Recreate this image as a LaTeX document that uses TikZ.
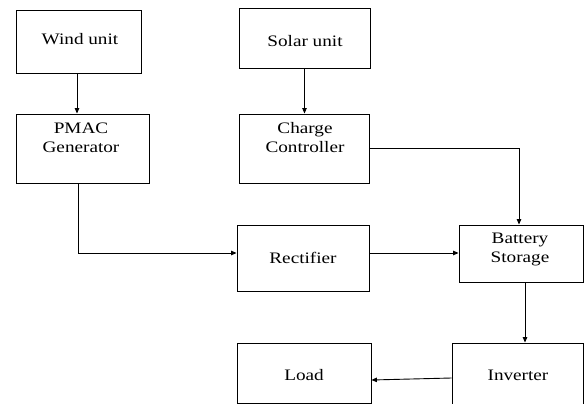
\documentclass[tikz,border=0pt]{standalone}
\usepackage{fontspec}
\setmainfont{Liberation Serif}[FakeStretch=1.2]
\usetikzlibrary{arrows.meta,calc}
\begin{document}
\begin{tikzpicture}[x=1pt,y=-1pt,
  blk/.style={draw=black,line width=0.9pt,rectangle,inner sep=0pt},
  lbl/.style={font=\fontsize{16}{19}\selectfont,align=center,inner sep=0pt,anchor=base},
  conn/.style={draw=black,line width=0.9pt,-{Triangle[length=5.5pt,width=4.5pt]}}]
\useasboundingbox (0,0) rectangle (584,404);
% boxes
\node[blk,minimum width=125pt,minimum height=63pt] (wind) at (78.5,41.5) {};
\node[blk,minimum width=133pt,minimum height=69pt] (pmac) at (82.5,148.5) {};
\node[blk,minimum width=131pt,minimum height=60pt] (solar) at (304.5,38) {};
\node[blk,minimum width=130pt,minimum height=69pt] (charge) at (304,148.5) {};
\node[blk,minimum width=132pt,minimum height=66pt] (rect) at (303,258) {};
\node[blk,minimum width=124pt,minimum height=57pt] (batt) at (521,253.5) {};
\node[blk,minimum width=134pt,minimum height=60pt] (load) at (304,373) {};
\node[blk,minimum width=131pt,minimum height=62pt] (inv) at (517.5,374) {};
% labels
\node[lbl] (twind) at (80,45) {Wind unit};
\node[lbl] (tpmac) at (81,152) {PMAC\\Generator};
\node[lbl] (tsolar) at (305,47) {Solar unit};
\node[lbl] (tcharge) at (305,152) {Charge\\Controller};
\node[lbl] (trect) at (303,263) {Rectifier};
\node[lbl] (tbatt) at (520,262) {Battery\\Storage};
\node[lbl] (tload) at (304,380) {Load};
\node[lbl] (tinv) at (518,380) {Inverter};
% connectors
\draw[conn] ([xshift=-1.5pt]wind.south) -- ([xshift=-1.5pt]wind.south |- pmac.north);
\draw[conn] (solar.south) -- (solar.south |- charge.north);
\draw[conn] ([xshift=-4.5pt]pmac.south) |- ([yshift=5pt]rect.west);
\draw[conn] (charge.east) -| ([xshift=-2pt]batt.north);
\draw[conn] ([yshift=5pt]rect.east) -- ([yshift=0.5pt]batt.west);
\draw[conn] ([xshift=4pt]batt.south) -- ([xshift=4pt]batt.south |- inv.north);
\draw[conn] ([yshift=-4pt]inv.west) -- ([yshift=-7pt]load.east);
\end{tikzpicture}
\end{document}
